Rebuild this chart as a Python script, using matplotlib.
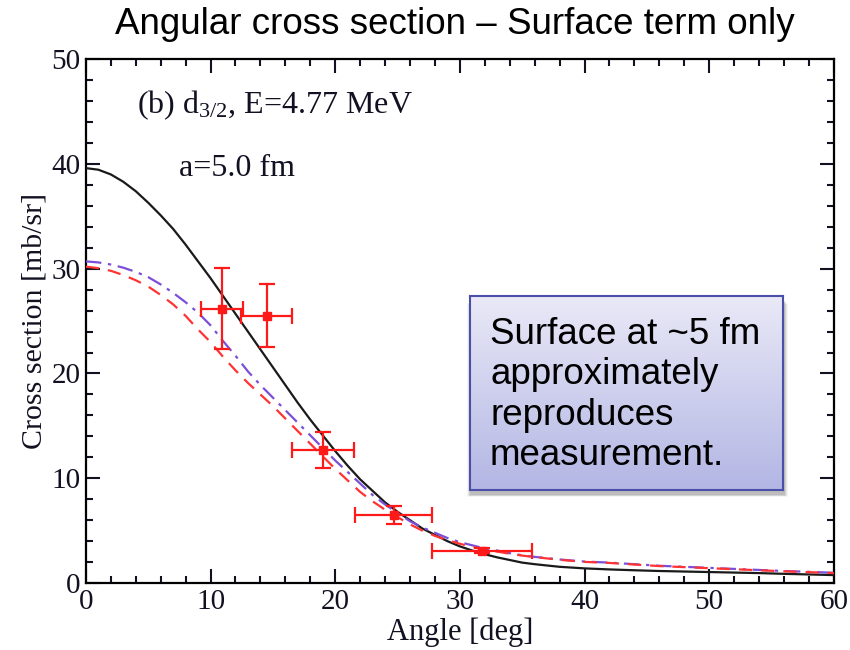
import numpy as np
import matplotlib
matplotlib.use("Agg")
import matplotlib.pyplot as plt
from matplotlib.ticker import MultipleLocator
from matplotlib.patches import FancyBboxPatch

plt.rcParams['font.family'] = ['Liberation Serif', 'DejaVu Serif']
plt.rcParams['mathtext.fontset'] = 'custom'
plt.rcParams['mathtext.rm'] = 'Liberation Serif'
plt.rcParams['mathtext.default'] = 'rm'

# calculated curves (angle in deg, cross section in mb/sr)
angle = [0, 1, 2, 3, 4, 5, 6, 7, 8, 9, 10, 11, 12, 13, 14, 15, 16, 17, 18, 19, 20,
         21, 22, 23, 24, 25, 26, 27, 28, 29, 30, 31, 32, 33, 34, 35, 36, 38, 40,
         42, 44, 46, 48, 50, 52, 54, 56, 58, 60]
xs_black = [39.6, 39.45, 39.0, 38.3, 37.4, 36.3, 35.1, 33.8, 32.3, 30.7, 29.1, 27.4, 25.7,
            24.0, 22.3, 20.6, 18.9, 17.2, 15.6, 14.1, 12.6, 11.2, 9.9, 8.8, 7.7, 6.8, 6.0,
            5.2, 4.6, 4.0, 3.5, 3.1, 2.75, 2.45, 2.2, 1.95, 1.8, 1.55, 1.4, 1.3, 1.22,
            1.15, 1.1, 1.05, 1.0, 0.95, 0.88, 0.82, 0.76]
xs_purple = [30.7, 30.6, 30.4, 30.1, 29.7, 29.2, 28.5, 27.7, 26.8, 25.8, 24.6, 23.1, 21.7,
             20.2, 18.9, 17.7, 16.5, 15.3, 14.1, 12.9, 11.7, 10.6, 9.5, 8.4, 7.5, 6.7, 5.9,
             5.3, 4.8, 4.3, 3.9, 3.6, 3.3, 3.1, 2.85, 2.65, 2.5, 2.25, 2.05, 1.95, 1.8,
             1.65, 1.55, 1.45, 1.35, 1.25, 1.15, 1.07, 0.98]
xs_red = [30.2, 30.05, 29.8, 29.4, 28.9, 28.3, 27.5, 26.6, 25.5, 24.2, 23.0, 21.6, 20.3,
          19.1, 18.0, 16.9, 15.7, 14.5, 13.3, 12.1, 10.9, 9.8, 8.7, 7.8, 7.0, 6.3, 5.6,
          5.0, 4.5, 4.1, 3.75, 3.45, 3.2, 3.0, 2.8, 2.62, 2.48, 2.22, 2.02, 1.92, 1.77,
          1.62, 1.52, 1.42, 1.32, 1.22, 1.12, 1.04, 0.95]

# measured points
meas_angle = [10.9, 14.5, 19.0, 24.7, 31.8]
meas_xs = [26.2, 25.5, 12.7, 6.5, 3.1]
meas_xerr = [1.7, 2.05, 2.5, 3.1, 4.0]
meas_yerr = [3.9, 3.0, 1.7, 0.9, 0.25]

fig = plt.figure(figsize=(8.5, 6.5), dpi=100)
ax = fig.add_axes([0.101, 0.103, 0.880, 0.806])

ax.plot(angle, xs_black, color='#1a1a1a', lw=1.6, zorder=3)
ax.plot(angle, xs_purple, color='#7b4fd8', lw=1.6, dashes=(7, 3, 1.5, 3), zorder=3)
ax.plot(angle, xs_red, color='#ff3333', lw=1.6, dashes=(6, 4), zorder=3)
ax.errorbar(meas_angle, meas_xs, xerr=meas_xerr, yerr=meas_yerr, fmt='s', color='#ff1a1a',
            ms=6, lw=1.6, capsize=6, capthick=1.6, zorder=4)

ax.set_xlim(0, 60)
ax.set_ylim(0, 50)
ax.xaxis.set_major_locator(MultipleLocator(10))
ax.xaxis.set_minor_locator(MultipleLocator(2))
ax.yaxis.set_major_locator(MultipleLocator(10))
ax.yaxis.set_minor_locator(MultipleLocator(2))
ax.tick_params(which='both', direction='in', top=True, right=True, width=1.5,
               labelsize=21, colors='#111122')
ax.tick_params(which='major', length=10)
ax.tick_params(which='minor', length=5)
ax.tick_params(axis='x', pad=4)
ax.tick_params(axis='y', pad=4)
for s in ax.spines.values():
    s.set_linewidth(1.6)

ax.set_xlabel('Angle [deg]', fontsize=22, labelpad=2, color='#111122')
ax.set_ylabel('Cross section [mb/sr]', fontsize=21.5, labelpad=3, color='#111122')

ax.text(4.1, 45.6, r'(b) d$_{3/2}$, E=4.77 MeV', fontsize=23, color='#111122', va='center')
ax.text(7.5, 39.6, 'a=5.0 fm', fontsize=23, color='#111122', va='center')

fig.text(0.535, 0.962, 'Angular cross section \u2013 Surface term only', ha='center', va='center',
         fontsize=26.5, family='Liberation Sans')

# callout box with soft shadow and vertical gradient
bx, by, bw, bh = 0.553, 0.246, 0.368, 0.298
for i, a in enumerate([0.04, 0.06, 0.08, 0.10]):
    d = 0.010 - i * 0.0025
    fig.patches.append(FancyBboxPatch((bx + 0.001 - d / 2, by - 0.008 - d / 2 + 0.002), bw + d, bh,
                                      boxstyle='square,pad=0', transform=fig.transFigure,
                                      facecolor='black', edgecolor='none', alpha=a, zorder=5))
bax = fig.add_axes([bx, by, bw, bh], zorder=6)
top = np.array([233, 233, 247]) / 255
bot = np.array([179, 182, 228]) / 255
t = np.linspace(0, 1, 200)[:, None]
grad = (top * (1 - t) + bot * t)[:, None, :]
bax.imshow(grad, aspect='auto', extent=[0, 1, 0, 1])
bax.set_xticks([])
bax.set_yticks([])
for s in bax.spines.values():
    s.set_color('#4a4fa8')
    s.set_linewidth(1.5)
bax.text(0.064, 0.49, 'Surface at ~5 fm\napproximately\nreproduces\nmeasurement.',
         transform=bax.transAxes, va='center', ha='left', fontsize=26.5,
         family='Liberation Sans', linespacing=1.2)

fig.savefig('out.png', dpi=100)
